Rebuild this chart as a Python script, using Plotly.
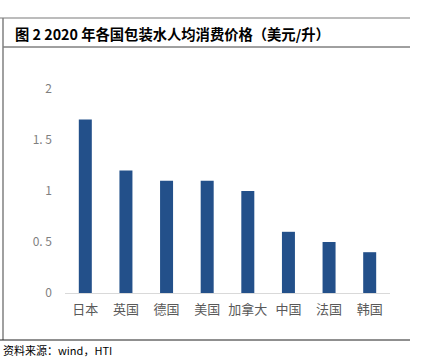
import plotly.graph_objects as go

categories = ["日本", "英国", "德国", "美国", "加拿大", "中国", "法国", "韩国"]
values = [1.7, 1.2, 1.1, 1.1, 1.0, 0.6, 0.5, 0.4]
ytick_vals = [0, 0.5, 1, 1.5, 2]
ytick_text = ["0", "0. 5", "1", "1. 5", "2"]

W, H = 422, 363
L, R, T, B = 65, 390, 89, 293


def px(x):
    return (x - L) / (R - L)


def py(y):
    return (B - y) / (B - T)


fig = go.Figure(go.Bar(
    x=categories, y=values, marker=dict(color="#23508A", line=dict(width=0)),
    width=0.32,
))

fig.update_layout(
    width=W, height=H,
    margin=dict(l=L, r=W - R, t=T, b=H - B, pad=0),
    plot_bgcolor="white", paper_bgcolor="white",
    showlegend=False,
    xaxis=dict(showgrid=False, showline=True, linecolor="#D9D9D9", linewidth=1,
               ticks="", ticklabelstandoff=4,
               tickfont=dict(family="Noto Sans CJK SC", size=13, color="#595959")),
    yaxis=dict(range=[0, 2], showgrid=False, zeroline=False, showline=False,
               tickvals=ytick_vals, ticktext=ytick_text, ticklabelstandoff=12,
               tickfont=dict(family="Noto Sans CJK SC", size=12, color="#7F7F7F")),
    shapes=[
        dict(type="line", xref="paper", yref="paper", x0=px(0), x1=px(410), y0=py(18), y1=py(18),
             line=dict(color="#A6A6A6", width=1.5)),
        dict(type="line", xref="paper", yref="paper", x0=px(3), x1=px(410), y0=py(47), y1=py(47),
             line=dict(color="#404040", width=1)),
        dict(type="line", xref="paper", yref="paper", x0=px(3), x1=px(3), y0=py(18), y1=py(340),
             line=dict(color="#808080", width=1.5)),
        dict(type="line", xref="paper", yref="paper", x0=px(0), x1=px(410), y0=py(340), y1=py(340),
             line=dict(color="#202020", width=1)),
    ],
    annotations=[
        dict(text="<b>图 2 2020 年各国包装水人均消费价格（美元/升）</b>", xref="paper", yref="paper",
             x=px(13), y=py(33), xanchor="left", yanchor="middle", showarrow=False,
             font=dict(family="Noto Sans CJK SC", size=14.3, color="#000000")),
        dict(text="资料来源：wind，HTI", xref="paper", yref="paper",
             x=px(1), y=py(350), xanchor="left", yanchor="middle", showarrow=False,
             font=dict(family="Noto Sans CJK SC", size=11, color="#000000")),
    ],
)

fig.write_html("out.html", config={"displayModeBar": False},
               post_script="document.body.style.margin='0';")
